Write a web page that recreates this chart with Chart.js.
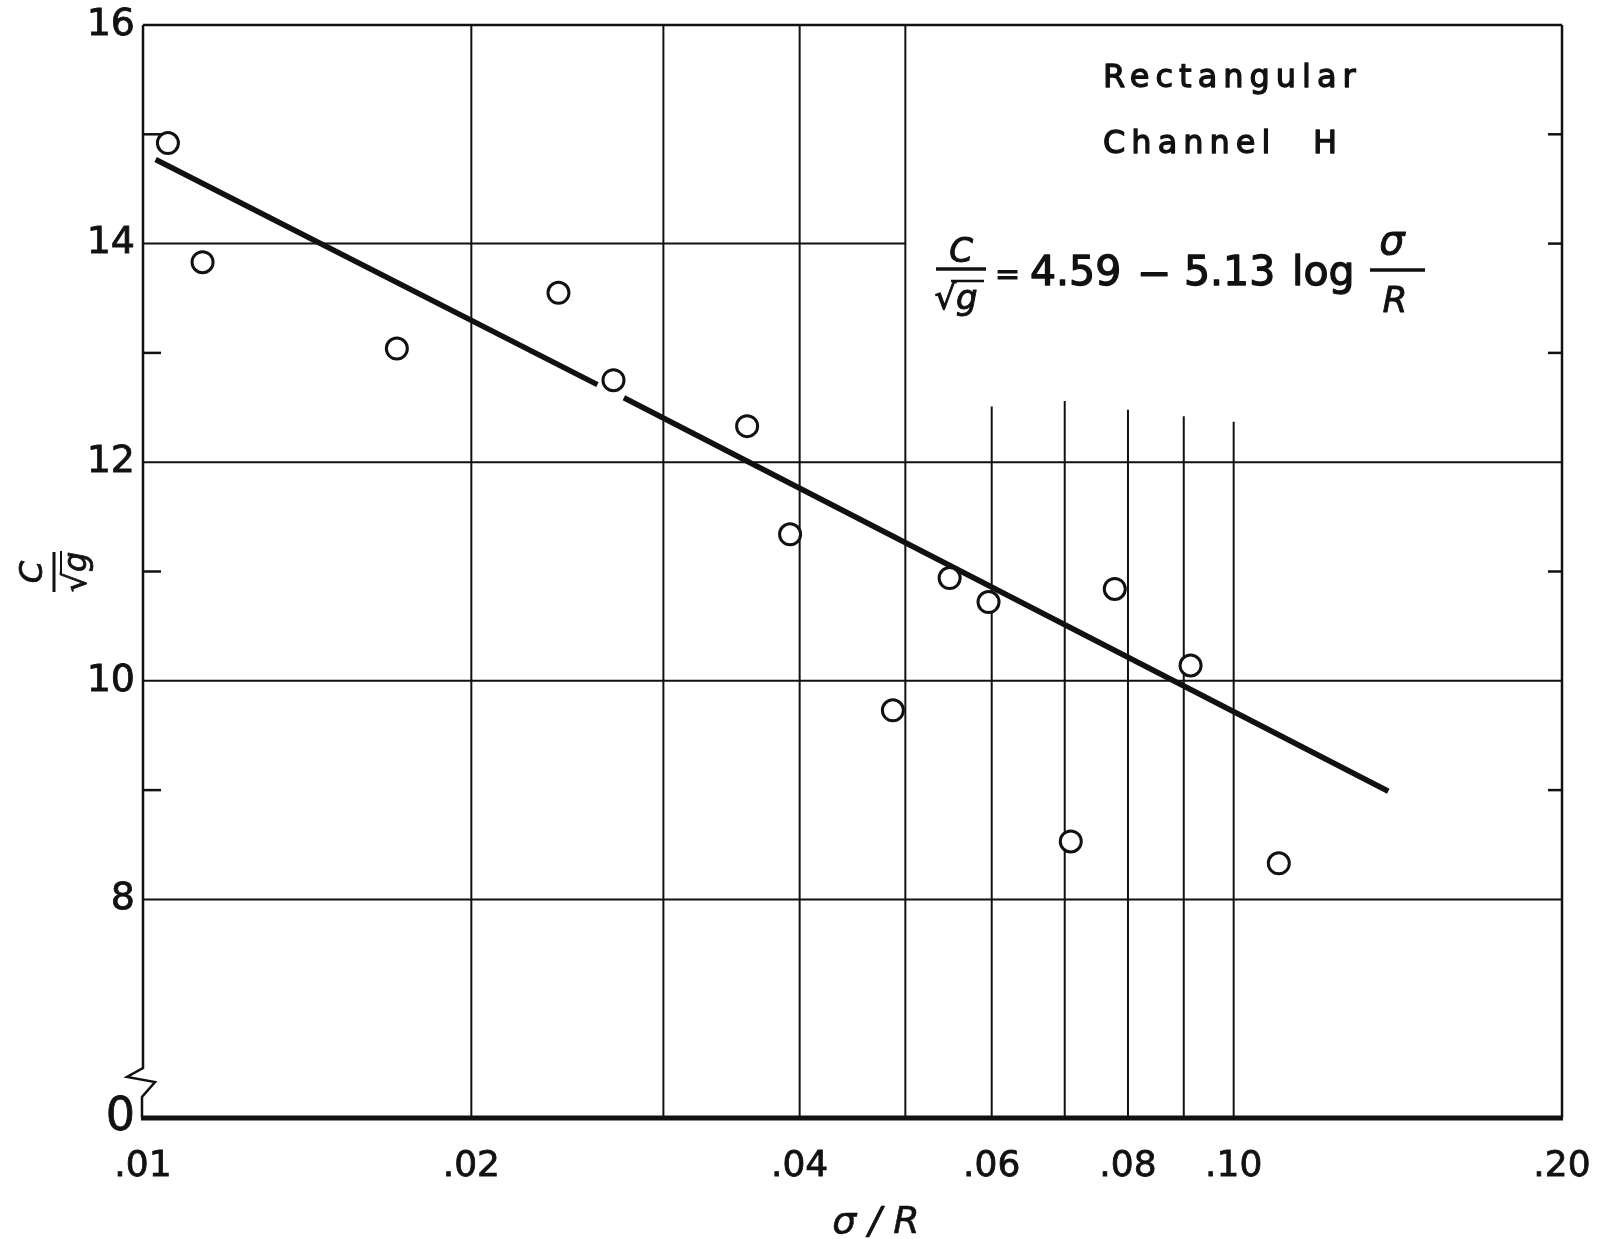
<!DOCTYPE html>
<html>
<head>
<meta charset="utf-8">
<script src="https://cdn.jsdelivr.net/npm/chart.js@4.4.1/dist/chart.umd.min.js"></script>
<style>
  html, body { margin: 0; padding: 0; background: #fff; }
  canvas { display: block; }
</style>
</head>
<body>
<canvas id="chezyChart" width="1604" height="1239"></canvas>
<script>
// relative roughness sigma/R vs C/sqrt(g), rectangular channel H
const sigmaR = [0.01054, 0.01134, 0.01709, 0.02404, 0.0270, 0.0358, 0.0392, 0.0487, 0.0549, 0.0596, 0.0709, 0.0778, 0.0913, 0.1100];
const cSqrtG = [14.92, 13.83, 13.04, 13.55, 12.75, 12.33, 11.34, 9.73, 10.94, 10.72, 8.53, 10.84, 10.14, 8.33];

// fitted line C/sqrt(g) = 4.59 - 5.13 log(sigma/R), broken where it meets a circle
const fitSigmaR = [0.01027, 0.0261, 0.0268, 0.0276, 0.1386];
const fitC = [14.77, 12.71, null, 12.59, 8.99];

const xTicks = [0.01, 0.02, 0.04, 0.06, 0.08, 0.10, 0.20];
const xTickLabels = ['.01', '.02', '.04', '.06', '.08', '.10', '.20'];
const yTicks = [6, 8, 10, 12, 14, 16];
const yTickLabels = ['0', '8', '10', '12', '14', '16'];

const fullGridX = [0.02, 0.03, 0.04, 0.05];
const shortGridX = [0.06, 0.07, 0.08, 0.09, 0.10];
const shortGridTop = [12.51, 12.56, 12.48, 12.42, 12.37];
const fullGridY = [8, 10, 12];
const leftMinorY = [9, 11, 13, 15];
const rightMinorY = [9, 11, 13, 14, 15];

const ink = '#111';
const family = '"DejaVu Sans", sans-serif';

function line(ctx, x1, y1, x2, y2) {
    ctx.beginPath();
    ctx.moveTo(x1, y1);
    ctx.lineTo(x2, y2);
    ctx.stroke();
}

function inkText(ctx, text, x, y, weight) {
    ctx.fillText(text, x, y);
    if (weight) {
        ctx.lineWidth = weight;
        ctx.strokeText(text, x, y);
    }
}

const paperGrid = {
    id: 'paperGrid',
    beforeDatasetsDraw(chart) {
        const { ctx, scales: { x, y } } = chart;
        const left = x.getPixelForValue(0.01), right = x.getPixelForValue(0.2);
        const top = y.getPixelForValue(16), bottom = y.getPixelForValue(6);
        ctx.save();
        ctx.strokeStyle = ink;
        ctx.lineCap = 'butt';

        ctx.lineWidth = 2;
        fullGridY.forEach(v => line(ctx, left, y.getPixelForValue(v), right, y.getPixelForValue(v)));
        // the 14 line stops at .05, leaving room for the formula
        line(ctx, left, y.getPixelForValue(14), x.getPixelForValue(0.05), y.getPixelForValue(14));
        fullGridX.forEach(v => line(ctx, x.getPixelForValue(v), top, x.getPixelForValue(v), bottom));
        shortGridX.forEach((v, i) => line(ctx, x.getPixelForValue(v), y.getPixelForValue(shortGridTop[i]), x.getPixelForValue(v), bottom));

        ctx.lineWidth = 2.5;
        leftMinorY.forEach(v => line(ctx, left, y.getPixelForValue(v), left + 18, y.getPixelForValue(v)));
        rightMinorY.forEach(v => line(ctx, right, y.getPixelForValue(v), right - 14, y.getPixelForValue(v)));

        // frame
        line(ctx, left, top, right, top);
        line(ctx, right, top, right, bottom);
        ctx.beginPath();
        ctx.moveTo(left, top);
        ctx.lineTo(left, bottom - 50);
        ctx.lineTo(left - 16, bottom - 41);
        ctx.lineTo(left + 12, bottom - 36);
        ctx.lineTo(left - 1, bottom - 21);
        ctx.lineTo(left - 1, bottom);
        ctx.stroke();
        ctx.lineWidth = 5;
        line(ctx, left - 2, bottom, right + 1, bottom);
        ctx.restore();
    },
    afterDraw(chart) {
        const { ctx } = chart;
        ctx.save();
        ctx.fillStyle = ink;
        ctx.strokeStyle = ink;
        ctx.lineJoin = 'round';

        // legend text
        ctx.font = `32px ${family}`;
        ctx.textBaseline = 'alphabetic';
        ctx.textAlign = 'left';
        ctx.letterSpacing = '6px';
        inkText(ctx, 'Rectangular', 1103, 87, 1.3);
        inkText(ctx, 'Channel', 1103, 153, 1.3);
        ctx.letterSpacing = '0px';
        inkText(ctx, 'H', 1313, 153, 1.3);

        // formula
        ctx.textAlign = 'center';
        ctx.font = `italic 34px ${family}`;
        inkText(ctx, 'C', 961, 262, 1);
        ctx.lineWidth = 3.5;
        line(ctx, 936, 269, 986, 269);
        ctx.font = `italic 34px ${family}`;
        inkText(ctx, '\u221Ag', 956, 309, 1);
        ctx.lineWidth = 2.5;
        line(ctx, 951, 281, 984, 281);
        ctx.textAlign = 'left';
        ctx.font = `30px ${family}`;
        inkText(ctx, '=', 995, 284, 1.2);
        ctx.font = `41px ${family}`;
        inkText(ctx, '4.59', 1030, 285, 1.3);
        inkText(ctx, '\u2212', 1137, 287, 1.3);
        inkText(ctx, '5.13', 1184, 285, 1.3);
        inkText(ctx, 'log', 1292, 285, 1.3);
        ctx.textAlign = 'center';
        ctx.font = `italic 40px ${family}`;
        inkText(ctx, '\u03C3', 1392, 254, 1);
        ctx.lineWidth = 3.5;
        line(ctx, 1370, 270, 1425, 270);
        ctx.font = `italic 36px ${family}`;
        inkText(ctx, 'R', 1395, 312, 0.8);

        // axis titles
        ctx.font = `italic 38px ${family}`;
        ctx.textAlign = 'center';
        inkText(ctx, '\u03C3 / R', 876, 1233, 0.6);

        ctx.translate(54, 572);
        ctx.rotate(-Math.PI / 2);
        ctx.font = `italic 32px ${family}`;
        inkText(ctx, 'C', 0, -12, 0.8);
        ctx.lineWidth = 3;
        line(ctx, -20, 0, 20, 0);
        inkText(ctx, '\u221Ag', 0, 32, 0.8);
        ctx.lineWidth = 2;
        line(ctx, -3, 7, 21, 7);
        ctx.restore();
    }
};

new Chart(document.getElementById('chezyChart').getContext('2d'), {
    type: 'scatter',
    data: {
        datasets: [{
            label: 'Measured',
            data: sigmaR.map((v, i) => ({ x: v, y: cSqrtG[i] })),
            pointRadius: 10.5,
            pointBorderWidth: 3,
            pointBackgroundColor: '#fff',
            pointBorderColor: ink,
            order: 0
        }, {
            type: 'line',
            label: 'Fit',
            data: fitSigmaR.map((v, i) => ({ x: v, y: fitC[i] })),
            borderColor: ink,
            borderWidth: 5.5,
            pointRadius: 0,
            spanGaps: false,
            fill: false,
            order: 1
        }]
    },
    options: {
        responsive: false,
        animation: false,
        layout: { padding: { left: 0, right: 42, top: 25, bottom: 0 } },
        plugins: {
            legend: { display: false },
            tooltip: { enabled: false }
        },
        scales: {
            x: {
                type: 'logarithmic',
                min: 0.01,
                max: 0.2,
                grid: { display: false, drawTicks: false },
                border: { display: false },
                afterBuildTicks: scale => { scale.ticks = xTicks.map(v => ({ value: v })); },
                afterFit: scale => {
                    scale.height = 121;
                    scale.paddingLeft = 0;
                    scale.paddingRight = 0;
                },
                ticks: {
                    autoSkip: false,
                    maxRotation: 0,
                    padding: 27,
                    color: ink,
                    textStrokeColor: ink,
                    textStrokeWidth: 0.8,
                    font: { family: family, size: 36 },
                    callback: (value, index) => xTickLabels[index]
                }
            },
            y: {
                type: 'linear',
                min: 6,
                max: 16,
                grid: { display: false, drawTicks: false },
                border: { display: false },
                afterBuildTicks: scale => { scale.ticks = yTicks.map(v => ({ value: v })); },
                afterFit: scale => {
                    scale.width = 143;
                    scale.paddingTop = 0;
                    scale.paddingBottom = 0;
                },
                ticks: {
                    padding: 8,
                    color: ink,
                    textStrokeColor: ink,
                    textStrokeWidth: 0.8,
                    font: ctx => ({ family: family, size: ctx.tick && ctx.tick.value === 6 ? 46 : 38 }),
                    callback: (value, index) => yTickLabels[index]
                }
            }
        }
    },
    plugins: [paperGrid]
});
</script>
</body>
</html>
